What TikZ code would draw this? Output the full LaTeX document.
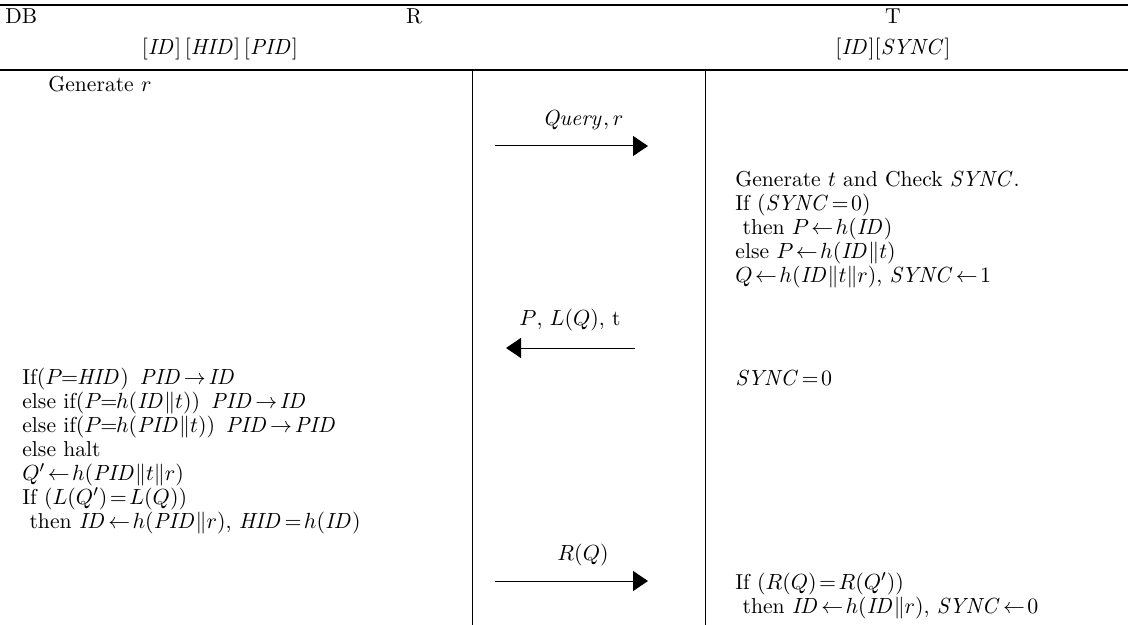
\documentclass[tikz,border=0pt]{standalone}
\usetikzlibrary{arrows.meta}
\newcommand{\mi}[1]{\mathit{#1}}
\thickmuskip=2mu plus 1mu
\medmuskip=2mu plus 1mu
\begin{document}
\begin{tikzpicture}[x=0.5pt,y=-0.5pt,
  txt/.style={inner sep=0pt, font=\fontsize{10.8}{12}\selectfont},
  lft/.style={txt, anchor=west},
  blk/.style={txt, anchor=north west, align=left},
  lbl/.style={txt},
  msg/.style={-{Triangle[length=7.5pt,width=10pt]}, line width=0.5pt},
  rulel/.style={line width=0.8pt},
  lane/.style={line width=0.5pt}]
\useasboundingbox (0,0) rectangle (1128,625);

% table frame
\coordinate (topL) at (0,5);    \coordinate (topR) at (1128,5);
\coordinate (hdL) at (0,70);    \coordinate (hdR) at (1128,70);
\coordinate (v1t) at (472,70);  \coordinate (v1b) at (472,625);
\coordinate (v2t) at (705,70);  \coordinate (v2b) at (705,625);
\draw[rulel] (topL) -- (topR);
\draw[rulel] (hdL) -- (hdR);
\draw[lane] (v1t) -- (v1b);
\draw[lane] (v2t) -- (v2b);

% header
\node[lft] (db) at (5,16) {DB};
\node[lbl] (rd) at (414,16) {R};
\node[lbl] (tg) at (893,16) {T};
\node[lbl] (dbvars) at (220,49) {$[\mi{ID}]\,[\mi{HID}]\,[\mi{PID}]$};
\node[lbl] (tgvars) at (893,49) {$[\mi{ID}][\mi{SYNC}]$};

% database side
\node[lft] (genr) at (48,84) {Generate $r$};
\node[blk] (dbcheck) at (22,368) {%
If$(P\!=\!\mi{HID})$\enspace$\mi{PID}\rightarrow\mi{ID}$\\
else if$(P\!=\!h(\mi{ID}\|t))$\enspace$\mi{PID}\rightarrow\mi{ID}$\\
else if$(P\!=\!h(\mi{PID}\|t))$\enspace$\mi{PID}\rightarrow\mi{PID}$\\
else halt\\
$Q'\leftarrow h(\mi{PID}\|t\|r)$\\
If $(L(Q')=L(Q))$\\
\ then $\mi{ID}\leftarrow h(\mi{PID}\|r)$,\ $\mi{HID}=h(\mi{ID})$};

% tag side
\node[blk] (tgcalc) at (735,171) {%
Generate $t$ and Check $\mi{SYNC}$.\\
If $(\mi{SYNC}=0)$\\
\ then $P\leftarrow h(\mi{ID})$\\
else $P\leftarrow h(\mi{ID}\|t)$\\
$Q\leftarrow h(\mi{ID}\|t\|r)$,\ $\mi{SYNC}\leftarrow1$};
\node[lft] (tgsync) at (735,378) {$\mi{SYNC}=0$};
\node[blk] (tgupd) at (735,572) {%
If $(R(Q)=R(Q'))$\\
\ then $\mi{ID}\leftarrow h(\mi{ID}\|r)$,\ $\mi{SYNC}\leftarrow0$};

% messages
\coordinate (m1a) at (495,146); \coordinate (m1b) at (648,146);
\draw[msg] (m1a) -- (m1b);
\node[lbl] (m1l) at (583,120) {$\mi{Query},r$};

\coordinate (m2a) at (635,348); \coordinate (m2b) at (506,348);
\draw[msg] (m2a) -- (m2b);
\node[lbl] (m2l) at (570,320) {$P$,\ $L(Q)$,\ t};

\coordinate (m3a) at (495,581); \coordinate (m3b) at (648,581);
\draw[msg] (m3a) -- (m3b);
\node[lbl] (m3l) at (583,555) {$R(Q)$};
\end{tikzpicture}
\end{document}
